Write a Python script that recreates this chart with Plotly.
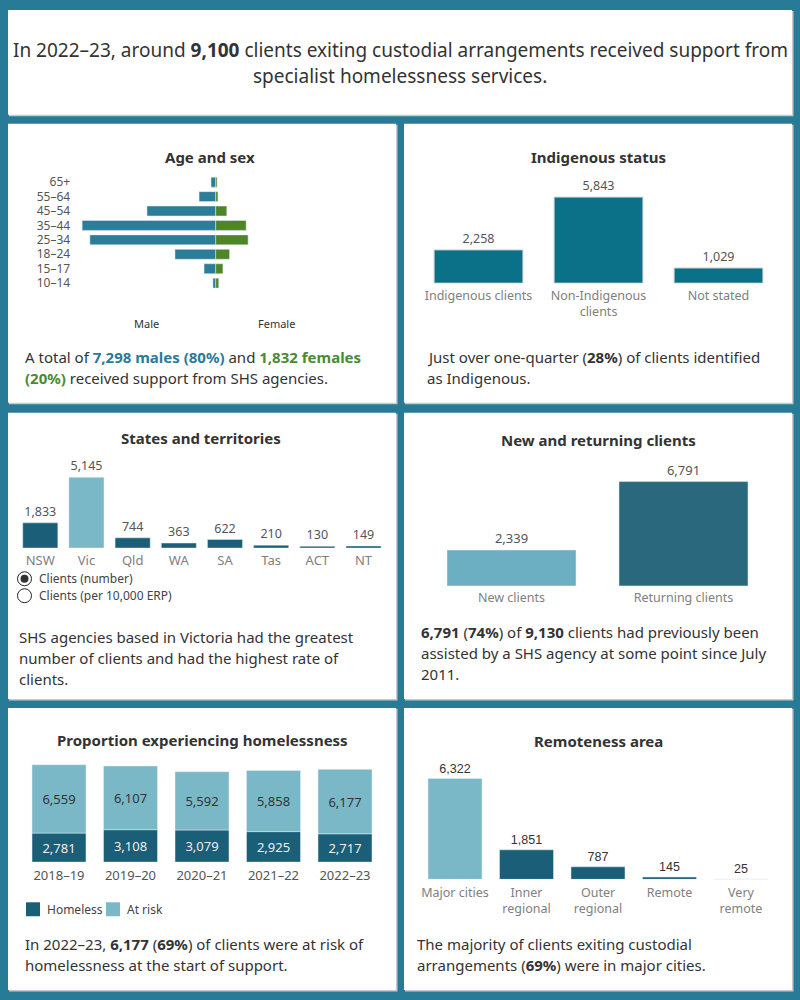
import plotly.graph_objects as go

# ---------------- DATA ----------------
age_groups = ["10–14", "15–17", "18–24", "25–34", "35–44", "45–54", "55–64", "65+"]
males = [50, 210, 735, 2270, 2410, 1240, 300, 85]
females = [55, 130, 250, 585, 550, 200, 40, 25]

indig_cats = ["Indigenous clients", "Non-Indigenous<br>clients", "Not stated"]
indig_vals = [2258, 5843, 1029]

states = ["NSW", "Vic", "Qld", "WA", "SA", "Tas", "ACT", "NT"]
state_vals = [1833, 5145, 744, 363, 622, 210, 130, 149]

nr_cats = ["New clients", "Returning clients"]
nr_vals = [2339, 6791]

years = ["2018–19", "2019–20", "2020–21", "2021–22", "2022–23"]
homeless = [2781, 3108, 3079, 2925, 2717]
at_risk = [6559, 6107, 5592, 5858, 6177]

remote_cats = ["Major cities", "Inner<br>regional", "Outer<br>regional", "Remote", "Very<br>remote"]
remote_vals = [6322, 1851, 787, 145, 25]

# ---------------- STYLE ----------------
W, H = 800, 1000
FRAME = "#287b96"
MALE = "#2c7d99"
FEMALE = "#4e8527"
INDIG = "#0b7189"
DARK = "#1a5e77"
LIGHT = "#7ab8c8"
NEW_C = "#6cafc3"
RET_C = "#2a687d"
FONT = "Noto Sans, sans-serif"
TXT = "#333333"
GRAY = "#808080"
VAL = "#555555"


def px(x):
    return x / W


def py(y):
    return 1 - y / H


def dom_x(a, b):
    return [px(a), px(b)]


def dom_y(top, bottom):
    return [py(bottom), py(top)]


fig = go.Figure()

# ---------------- Age & sex pyramid ----------------
fig.add_trace(go.Bar(y=age_groups, x=[-v for v in males], orientation="h", marker_color=MALE,
                     width=0.69, xaxis="x", yaxis="y", hoverinfo="skip"))
fig.add_trace(go.Bar(y=age_groups, x=females, orientation="h", marker_color=FEMALE,
                     width=0.69, xaxis="x", yaxis="y", hoverinfo="skip"))

# ---------------- Indigenous ----------------
fig.add_trace(go.Bar(x=indig_cats, y=indig_vals, marker=dict(color=INDIG, line=dict(color="#d0d0d0", width=1)),
                     width=0.74, texttemplate="%{y:,}", textposition="outside",
                     textfont=dict(color=VAL, size=12.5, family=FONT), cliponaxis=False,
                     xaxis="x2", yaxis="y2", hoverinfo="skip"))

# ---------------- States ----------------
state_colors = [LIGHT if s == "Vic" else DARK for s in states]
fig.add_trace(go.Bar(x=states, y=state_vals, marker_color=state_colors, width=0.76,
                     texttemplate="%{y:,}", textposition="outside",
                     textfont=dict(color=VAL, size=12.5, family=FONT), cliponaxis=False,
                     xaxis="x3", yaxis="y3", hoverinfo="skip"))

# ---------------- New / returning ----------------
fig.add_trace(go.Bar(x=nr_cats, y=nr_vals, marker_color=[NEW_C, RET_C], width=0.75,
                     texttemplate="%{y:,}", textposition="outside",
                     textfont=dict(color=VAL, size=13, family=FONT), cliponaxis=False,
                     xaxis="x4", yaxis="y4", hoverinfo="skip"))

# ---------------- Homelessness stacked ----------------
fig.add_trace(go.Bar(x=years, y=homeless, marker_color=DARK, width=0.755, name="Homeless",
                     texttemplate="%{y:,}", textposition="inside", insidetextanchor="middle",
                     textangle=0, constraintext="none",
                     textfont=dict(color="#eeeeee", size=13, family=FONT),
                     xaxis="x5", yaxis="y5", hoverinfo="skip"))
fig.add_trace(go.Bar(x=years, y=at_risk, marker_color=LIGHT, width=0.755, name="At risk",
                     texttemplate="%{y:,}", textposition="inside", insidetextanchor="middle",
                     textangle=0, constraintext="none",
                     textfont=dict(color="#333333", size=13, family=FONT),
                     xaxis="x5", yaxis="y5", hoverinfo="skip"))

# ---------------- Remoteness ----------------
remote_colors = [LIGHT if i == 0 else DARK for i in range(len(remote_cats))]
fig.add_trace(go.Bar(x=remote_cats, y=remote_vals, marker_color=remote_colors, width=0.755,
                     texttemplate="%{y:,}", textposition="outside",
                     textfont=dict(color="#333333", size=12.5, family="Liberation Sans, Arial, sans-serif"),
                     cliponaxis=False, xaxis="x6", yaxis="y6", hoverinfo="skip"))

cat_font = dict(color=GRAY, size=12.5, family=FONT)
noaxis = dict(showgrid=False, zeroline=False, showline=False, ticks="", fixedrange=True)

fig.update_layout(
    width=W, height=H, margin=dict(l=0, r=0, t=0, b=0),
    paper_bgcolor=FRAME, plot_bgcolor="rgba(0,0,0,0)",
    showlegend=False, barmode="relative", bargap=0.25,
    font=dict(family=FONT, color=TXT),
    xaxis=dict(domain=dom_x(75.2, 356.2), range=[-2535, 2535], showticklabels=False, anchor="y", **noaxis),
    yaxis=dict(domain=dom_y(173.5, 289.2), range=[-0.5, 7.5], anchor="x", type="category",
               tickmode="array", tickvals=age_groups, ticktext=age_groups,
               tickfont=dict(color=VAL, size=12, family=FONT), ticklabelstandoff=4, **noaxis),
    xaxis2=dict(domain=dom_x(418.5, 778.5), range=[-0.5, 2.5], anchor="y2", type="category",
                tickfont=cat_font, ticklabelstandoff=3, **noaxis),
    yaxis2=dict(domain=dom_y(190, 282), range=[0, 92 / 0.01477], anchor="x2", showticklabels=False, **noaxis),
    xaxis3=dict(domain=dom_x(17.2, 386.6), range=[-0.5, 7.5], anchor="y3", type="category",
                tickfont=dict(color=GRAY, size=13, family=FONT), ticklabelstandoff=3, **noaxis),
    yaxis3=dict(domain=dom_y(470, 547.7), range=[0, 77.7 / 0.0138], anchor="x3", showticklabels=False, **noaxis),
    xaxis4=dict(domain=dom_x(425.5, 769.5), range=[-0.5, 1.5], anchor="y4", type="category",
                tickfont=cat_font, ticklabelstandoff=3, **noaxis),
    yaxis4=dict(domain=dom_y(475, 585.7), range=[0, 110.7 / 0.01541], anchor="x4", showticklabels=False, **noaxis),
    xaxis5=dict(domain=dom_x(23.25, 380.75), range=[-0.5, 4.5], anchor="y5", type="category",
                tickfont=dict(color=VAL, size=13, family=FONT), ticklabelstandoff=4, **noaxis),
    yaxis5=dict(domain=dom_y(755, 862.7), range=[0, 107.7 / 0.01046], anchor="x5", showticklabels=False, **noaxis),
    xaxis6=dict(domain=dom_x(419.25, 776.75), range=[-0.5, 4.5], anchor="y6", type="category",
                tickfont=cat_font, ticklabelstandoff=4, **noaxis),
    yaxis6=dict(domain=dom_y(770, 880), range=[0, 110 / 0.016], anchor="x6", showticklabels=False, **noaxis),
)

# ---------------- Panels ----------------
panels = [(8, 8, 792, 113),
          (8, 122, 396, 402), (404, 122, 792, 402),
          (8, 412, 396, 699), (404, 412, 792, 699),
          (8, 708, 396, 991), (404, 708, 792, 991)]
shapes = []
for x0, y0, x1, y1 in panels:
    shapes.append(dict(type="rect", xref="paper", yref="paper", x0=px(x0 + 1), x1=px(x1 + 1.5),
                       y0=py(y1 + 1.5), y1=py(y0 + 1), fillcolor="#c9c9c9", line=dict(width=0), layer="below"))
    shapes.append(dict(type="rect", xref="paper", yref="paper", x0=px(x0), x1=px(x1),
                       y0=py(y1), y1=py(y0), fillcolor="white", line=dict(width=0), layer="below"))

# radio buttons
for cy, filled in [(578.5, True), (595.5, False)]:
    shapes.append(dict(type="circle", xref="paper", yref="paper", x0=px(17.5), x1=px(31.5),
                       y0=py(cy + 7), y1=py(cy - 7), fillcolor="white",
                       line=dict(color="#222222", width=1)))
    if filled:
        shapes.append(dict(type="circle", xref="paper", yref="paper", x0=px(20.5), x1=px(28.5),
                           y0=py(cy + 4), y1=py(cy - 4), fillcolor="#333333", line=dict(width=0)))

# legend squares (homelessness)
for x0, col in [(26, DARK), (106, LIGHT)]:
    shapes.append(dict(type="rect", xref="paper", yref="paper", x0=px(x0), x1=px(x0 + 14),
                       y0=py(917), y1=py(903), fillcolor=col, line=dict(width=0)))

fig.update_layout(shapes=shapes)

# ---------------- Text ----------------
ann = []


def text(x, y, s, size=15, color=TXT, anchor="left", family=FONT):
    ann.append(dict(x=px(x), y=py(y), xref="paper", yref="paper", text=s, showarrow=False,
                    xanchor=anchor, yanchor="middle", align=anchor,
                    font=dict(size=size, color=color, family=family)))


# headline
text(400, 48, "In 2022–23, around <b>9,100</b> clients exiting custodial arrangements received support from",
     size=19, anchor="center")
text(400, 74, "specialist homelessness services.", size=19, anchor="center")

# panel titles
text(210, 155, "<b>Age and sex</b>", size=15, anchor="center")
text(598, 155, "<b>Indigenous status</b>", size=15, anchor="center")
text(201, 437, "<b>States and territories</b>", size=15, anchor="center")
text(598, 439, "<b>New and returning clients</b>", size=15, anchor="center")
text(202, 740, "<b>Proportion experiencing homelessness</b>", size=15, anchor="center")
text(598, 741, "<b>Remoteness area</b>", size=15, anchor="center")

# pyramid axis labels
text(146, 322, "Male", size=11, anchor="center")
text(276, 322, "Female", size=11, anchor="center")

# radio labels
text(37, 578.5, "Clients (number)", size=12, color="#444444")
text(37, 595.5, "Clients (per 10,000 ERP)", size=12, color="#444444")

# legend labels
text(45, 910, "Homeless", size=12, color="#444444")
text(125, 910, "At risk", size=12, color="#444444")

# paragraphs
text(23, 356, "A total of <span style='color:#2b7a98'><b>7,298 males (80%)</b></span> and "
              "<span style='color:#4a8a36'><b>1,832 females</b></span>")
text(23, 377, "<span style='color:#4a8a36'><b>(20%)</b></span> received support from SHS agencies.")

text(425, 356, "Just over one-quarter (<b>28%</b>) of clients identified")
text(425, 377, "as Indigenous.")

text(17, 637, "SHS agencies based in Victoria had the greatest")
text(17, 658, "number of clients and had the highest rate of")
text(17, 679, "clients.")

text(419, 632, "<b>6,791</b> (<b>74%</b>) of <b>9,130</b> clients had previously been")
text(419, 653, "assisted by a SHS agency at some point since July")
text(419, 674, "2011.")

text(23, 945, "In 2022–23, <b>6,177</b> (<b>69%</b>) of clients were at risk of")
text(23, 966, "homelessness at the start of support.")

text(415, 945, "The majority of clients exiting custodial")
text(415, 966, "arrangements (<b>69%</b>) were in major cities.")

fig.update_layout(annotations=ann)

fig.write_html("out.html")
